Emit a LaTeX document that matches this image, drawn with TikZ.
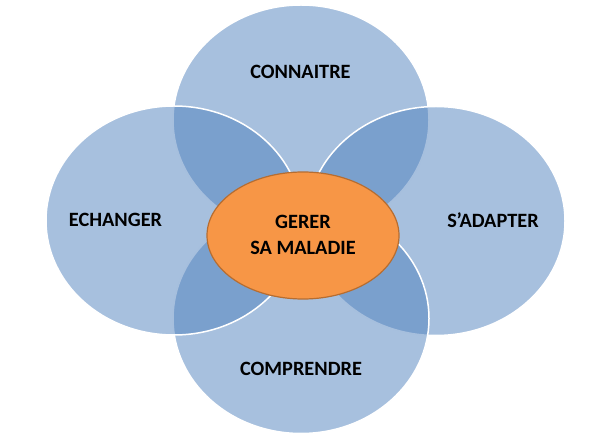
\documentclass[tikz,border=0pt]{standalone}
\usepackage{fontspec}
\setmainfont{Carlito}
\definecolor{accentblue}{HTML}{4F81BD}
\definecolor{accentorange}{HTML}{F79646}
\definecolor{orangeline}{HTML}{B66D31}
\begin{document}
\begin{tikzpicture}[x=1bp,y=-1bp,
  circ/.style={fill=accentblue,fill opacity=0.5,draw=white,draw opacity=1,line width=1.5bp},
  lbl/.style={font=\fontsize{20.4}{26.5}\selectfont\bfseries,text=black,inner sep=0pt}]
\useasboundingbox (0,0) rectangle (602,441);
% petals (drawn in stacking order)
\path[circ] (301,120) ellipse [x radius=128, y radius=115];
\path[circ] (436,221) ellipse [x radius=129, y radius=114.5];
\path[circ] (301,318.5) ellipse [x radius=128, y radius=115];
\path[circ] (174,220.5) ellipse [x radius=128, y radius=114.5];
% centre
\path[fill=accentorange,draw=orangeline,line width=1.2bp] (303,235.5) ellipse [x radius=96, y radius=63.5];
% labels
\node[lbl] (connaitre) at (300.5,72) {CONNAITRE};
\node[lbl] (echanger) at (115.5,220) {ECHANGER};
\node[lbl] (sadapter) at (493,220.5) {S’ADAPTER};
\node[lbl] (comprendre) at (301,368.5) {COMPRENDRE};
\node[lbl,align=center] (gerer) at (303,235) {GERER\\SA MALADIE};
\end{tikzpicture}
\end{document}
